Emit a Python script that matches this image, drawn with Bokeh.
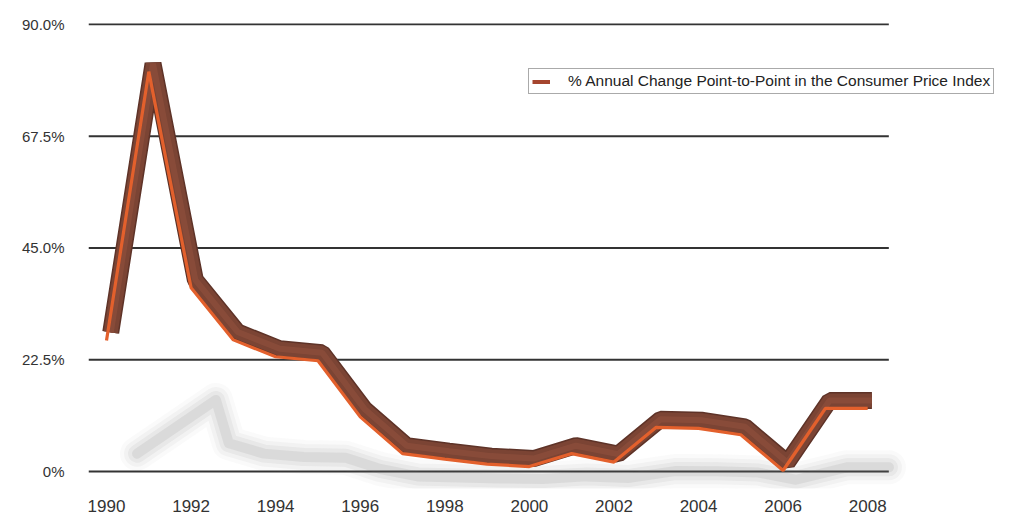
from bokeh.plotting import figure
from bokeh.models import (FixedTicker, CustomJSTickFormatter, Legend, LegendItem,
                          ColumnDataSource, Range1d)
from bokeh.embed import file_html
from bokeh.resources import INLINE

# ---- data ----
years = [1990, 1991, 1992, 1993, 1994, 1995, 1996, 1997, 1998, 1999,
         2000, 2001, 2002, 2003, 2004, 2005, 2006, 2007, 2008]
cpi_change = [26.4, 80.5, 37.0, 26.5, 23.1, 22.3, 11.0, 3.6, 2.5, 1.5,
              1.0, 3.6, 1.9, 8.9, 8.7, 7.4, 0.2, 12.7, 12.7]
y_ticks = [0, 22.5, 45, 67.5, 90]
x_ticks = [1990, 1992, 1994, 1996, 1998, 2000, 2002, 2004, 2006, 2008]
series_label = "% Annual Change Point-to-Point in the Consumer Price Index"

# plot extents (years) and where the horizontal rules stop
X_START, X_END = 1989.574, 2011.33
GRID_END = 2008.50

# ---- derived geometry for the 3D ribbon and its floor shadow ----
src = ColumnDataSource(dict(
    x=years,
    y=cpi_change,
    xb=[yr + 0.10 for yr in years],
    yb=[v + 1.6 for v in cpi_change],
    xs=[yr + v * 0.016 + 0.3 for yr, v in zip(years, cpi_change)],
    ys=[v * 0.2 - 1.7 for v in cpi_change],
))

FONT = "Liberation Sans"
TXT = "#333333"

p = figure(width=1008, height=514, output_backend="svg", toolbar_location=None,
           x_range=Range1d(X_START, X_END), y_range=Range1d(-3.42, 90.8),
           min_border_left=88, min_border_right=0, min_border_top=20,
           min_border_bottom=25)
p.outline_line_color = None
p.background_fill_color = "white"
p.border_fill_color = "white"

# grid: horizontal rules drawn as segments so they stop short of the legend side
p.xgrid.visible = False
p.ygrid.visible = False
p.segment(x0=[X_START] * len(y_ticks), x1=[GRID_END] * len(y_ticks),
          y0=y_ticks, y1=y_ticks, line_color="#333333", line_width=1.8)

# axes
p.yaxis.ticker = FixedTicker(ticks=y_ticks)
p.yaxis.formatter = CustomJSTickFormatter(
    code='return tick == 0 ? "0%" : tick.toFixed(1) + "%";')
p.xaxis.ticker = FixedTicker(ticks=x_ticks)
for ax in (p.xaxis, p.yaxis):
    ax.axis_line_color = None
    ax.major_tick_line_color = None
    ax.minor_tick_line_color = None
    ax.major_label_text_font = FONT
    ax.major_label_text_color = TXT
p.yaxis.major_label_text_font_size = "15px"
p.yaxis.major_label_standoff = 18
p.xaxis.major_label_text_font_size = "17px"
p.xaxis.major_label_standoff = 5

# shadow (soft, layered)
for w, a in [(34, 0.035), (26, 0.055), (18, 0.08), (10, 0.11)]:
    p.line("xs", "ys", source=src, line_width=w, line_color="#6e6e6e",
           line_alpha=a, line_join="round", line_cap="round")

# legend swatch line (hidden under the ribbon body)
swatch = p.line("xb", "yb", source=src, line_width=4, line_color="#a5452e")

# ribbon body
p.line("xb", "yb", source=src, line_width=17, line_color="#5e3328",
       line_join="bevel")
p.line("xb", "yb", source=src, line_width=14, line_color="#7b4434",
       line_join="bevel")
p.line("xb", "yb", source=src, line_width=6, line_color="#8c4d3b",
       line_join="bevel", line_alpha=0.8)
# front orange edge
p.line("x", "y", source=src, line_width=3.2, line_color="#e3602c",
       line_join="bevel")

# legend
legend = Legend(items=[LegendItem(label=series_label, renderers=[swatch])],
                location=(440, 394), orientation="vertical")
legend.label_text_font = FONT
legend.label_text_font_size = "15.5px"
legend.label_text_color = "#222222"
legend.border_line_color = "#555555"
legend.border_line_width = 1
legend.background_fill_color = "white"
legend.background_fill_alpha = 1
legend.padding = 3
legend.margin = 0
legend.spacing = 0
legend.glyph_width = 18
legend.glyph_height = 15
legend.label_standoff = 18
legend.label_height = 15
p.add_layout(legend, "center")

open("out.html", "w").write(file_html(p, INLINE))
